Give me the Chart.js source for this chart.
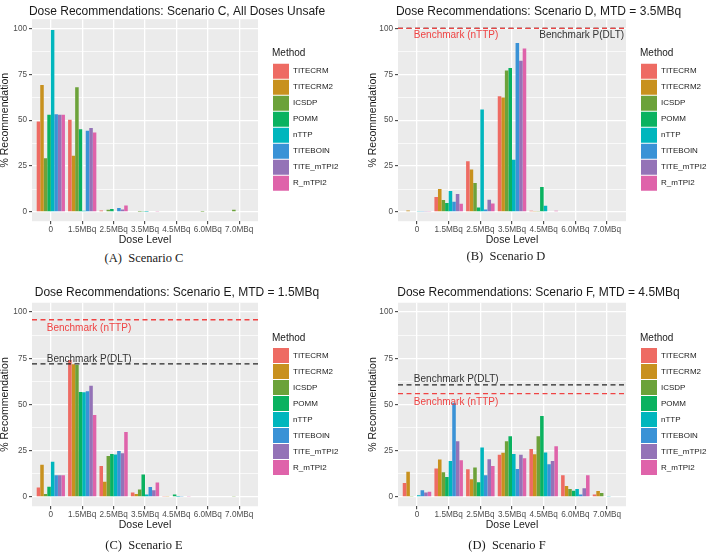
<!DOCTYPE html>
<html>
<head>
<meta charset="utf-8">
<title>Dose Recommendations</title>
<script src="https://cdn.jsdelivr.net/npm/chart.js@4.4.1/dist/chart.umd.min.js"></script>
<style>
html,body{margin:0;padding:0;background:#fff;}
body{width:709px;height:554px;position:relative;overflow:hidden;}
canvas{position:absolute;}
.cap{position:absolute;font-family:"Liberation Serif","Times New Roman",serif;font-size:12.5px;color:#1a1a1a;white-space:pre;transform:translate(-50%,-50%);}
</style>
</head>
<body>
<canvas id="chartA" width="354" height="250" style="left:0;top:0"></canvas>
<canvas id="chartB" width="355" height="250" style="left:354px;top:0"></canvas>
<canvas id="chartC" width="354" height="260" style="left:0;top:280px"></canvas>
<canvas id="chartD" width="355" height="260" style="left:354px;top:280px"></canvas>
<div class="cap" style="left:144px;top:258px">(A)  Scenario C</div>
<div class="cap" style="left:506px;top:256px">(B)  Scenario D</div>
<div class="cap" style="left:144px;top:545px">(C)  Scenario E</div>
<div class="cap" style="left:507px;top:545px">(D)  Scenario F</div>
<script>
// ---------- data ----------
const methods = ['TITECRM', 'TITECRM2', 'ICSDP', 'POMM', 'nTTP', 'TITEBOIN', 'TITE_mTPI2', 'R_mTPI2'];
const doseLevels = ['0', '1.5MBq', '2.5MBq', '3.5MBq', '4.5MBq', '6.0MBq', '7.0MBq'];
const methodColors = ['#EE6B63', '#C8911E', '#6CA23A', '#0AB260', '#00B6BD', '#3A92D6', '#9473B7', '#DF63AA'];
const yTickValues = [0, 12.5, 25, 37.5, 50, 62.5, 75, 87.5, 100];
const yTickLabels = ['0', '', '25', '', '50', '', '75', '', '100'];

// rows: one per method (same order as methods), columns: dose levels
const scenarioC = [
  [49.3, 50.2, 0.8, 0, 0, 0, 0],
  [69.2, 30.6, 0, 0, 0, 0, 0],
  [29.3, 67.9, 1.2, 0.2, 0, 0.2, 1.3],
  [52.9, 45.1, 1.7, 0.3, 0, 0, 0],
  [99.1, 0.7, 0, 0.2, 0, 0, 0],
  [53.3, 44.2, 2.2, 0.4, 0, 0, 0],
  [52.9, 45.7, 1.4, 0, 0, 0, 0],
  [52.9, 43.3, 3.6, 0.3, 0, 0, 0]
];
const scenarioD = [
  [0, 8.2, 27.7, 63.0, 0.7, 0, 0],
  [0.8, 12.5, 23.2, 62.3, 0.6, 0, 0],
  [0, 6.5, 15.8, 77.0, 0.5, 0, 0],
  [0, 4.9, 2.4, 78.4, 13.6, 0, 0],
  [0.3, 11.4, 55.8, 28.4, 3.4, 0.4, 0],
  [0.5, 5.6, 1.4, 92.0, 0, 0, 0],
  [0.6, 9.8, 6.7, 82.4, 0.4, 0, 0],
  [0.6, 4.5, 4.7, 89.1, 0.7, 0, 0]
];
const scenarioE = [
  [5.1, 74.1, 16.8, 2.5, 0.3, 0, 0],
  [17.5, 71.8, 8.3, 1.6, 0.3, 0, 0],
  [1.6, 71.4, 22.1, 4.0, 0.4, 0, 0.3],
  [5.6, 56.8, 23.3, 12.1, 1.4, 0, 0],
  [19.0, 56.6, 23.0, 1.4, 0.2, 0, 0],
  [11.8, 57.1, 24.8, 5.4, 0.5, 0, 0],
  [11.8, 60.2, 23.7, 3.6, 0.4, 0, 0],
  [11.8, 44.3, 35.1, 7.8, 0.6, 0, 0]
];
const scenarioF = [
  [7.6, 15.4, 15.0, 22.8, 26.0, 11.8, 1.3],
  [13.6, 20.3, 9.6, 23.9, 23.1, 6.0, 3.3],
  [0.5, 13.4, 15.9, 30.2, 32.9, 4.3, 2.2],
  [0.4, 10.8, 8.0, 32.9, 43.8, 3.4, 0],
  [0.9, 19.5, 26.8, 23.3, 24.1, 4.3, 0.5],
  [3.6, 51.0, 11.8, 15.2, 17.7, 1.3, 0],
  [2.4, 30.2, 20.4, 22.8, 19.5, 4.7, 0],
  [2.9, 19.9, 16.8, 21.0, 27.5, 11.8, 0.4]
];
// benchmark values per panel (C, D, E, F); null = none
const benchmarkNTTP = [null, 100, 95.8, 55.9];
const benchmarkPDLT = [null, 100, 72.0, 60.6];

// ---------- helpers ----------
const FONT = '"Liberation Sans", Arial, Helvetica, sans-serif';
Chart.defaults.font.family = FONT;
const X_MIN = -0.6, X_MAX = 6.6, Y_MIN = -5, Y_MAX = 105;
const RED = '#EF4343', DARK = '#262626';
const isMajor = (v) => Math.abs(v % 25) < 1e-6;

const panelBg = {
  id: 'panelBg',
  beforeDraw(chart) {
    const {ctx, chartArea: a} = chart;
    ctx.save();
    ctx.fillStyle = '#EBEBEB';
    ctx.fillRect(a.left, a.top, a.right - a.left, a.bottom - a.top);
    ctx.restore();
  }
};

const legendFix = {
  id: 'legendFix',
  afterInit(chart, args, opts) {
    const lg = chart.legend;
    if (!lg || lg._fixed) return;
    const fit = lg.fit;
    const w = opts.width;
    lg.fit = function () { fit.call(this); this.width = w; };
    lg._fixed = true;
  },
  afterLayout(chart, args, opts) {
    const lg = chart.legend;
    if (!lg) return;
    lg.left = chart.chartArea.right + opts.gap;
    lg.right = lg.left + lg.width;
  }
};

const benchLabels = {
  id: 'benchLabels',
  afterDatasetsDraw(chart, args, opts) {
    const {ctx, scales: {x, y}} = chart;
    (opts.items || []).forEach(it => {
      ctx.save();
      ctx.font = '10px ' + FONT;
      ctx.fillStyle = it.color;
      ctx.textAlign = it.align;
      ctx.textBaseline = 'middle';
      ctx.fillText(it.text, x.getPixelForValue(it.x), y.getPixelForValue(it.y));
      ctx.restore();
    });
  }
};

function buildChart(id, cfg) {
  const datasets = methods.map((m, i) => ({
    type: 'bar',
    label: m,
    data: cfg.rows[i].map((v, j) => ({x: j, y: v})),
    backgroundColor: methodColors[i],
    borderWidth: 0,
    categoryPercentage: 0.9,
    barPercentage: 1.0,
    order: 0
  }));
  if (cfg.pdlt != null) {
    datasets.push({type: 'line', label: 'Benchmark P(DLT)',
      data: [{x: X_MIN, y: cfg.pdlt}, {x: X_MAX, y: cfg.pdlt}],
      borderColor: DARK, borderWidth: 1.3, borderDash: [5, 3.5], pointRadius: 0, fill: false, order: -1});
  }
  if (cfg.nttp != null) {
    datasets.push({type: 'line', label: 'Benchmark (nTTP)',
      data: [{x: X_MIN, y: cfg.nttp}, {x: X_MAX, y: cfg.nttp}],
      borderColor: RED, borderWidth: 1.3, borderDash: [5, 3.5], pointRadius: 0, fill: false, order: -2});
  }
  return new Chart(document.getElementById(id), {
    type: 'bar',
    data: {datasets},
    plugins: [panelBg, legendFix, benchLabels],
    options: {
      responsive: false,
      animation: false,
      devicePixelRatio: 1,
      events: [],
      layout: {padding: {left: cfg.padLeft, right: 0, top: 0, bottom: 0}},
      plugins: {
        title: {display: true, text: cfg.title, align: 'center', color: '#1A1A1A',
          font: {size: 12, weight: 'normal'}, padding: {top: cfg.titleTop, bottom: cfg.titleBottom}, fullSize: true},
        legend: {display: true, position: 'right', align: 'center', fullSize: false,
          title: {display: true, text: 'Method', color: '#1A1A1A', font: {size: 10}, padding: {top: 0, bottom: 2}, position: 'start'},
          labels: {boxWidth: 16, boxHeight: 15, padding: 1, color: '#1A1A1A', font: {size: 8},
            filter: (it) => it.datasetIndex < methods.length}
        },
        tooltip: {enabled: false},
        legendFix: {width: cfg.legendWidth, gap: 14},
        benchLabels: {items: cfg.labels}
      },
      scales: {
        x: {
          type: 'linear', min: X_MIN, max: X_MAX, offset: false,
          afterBuildTicks: (s) => { s.ticks = doseLevels.map((_, i) => ({value: i})); },
          afterFit: (s) => { s.height = cfg.xHeight; },
          ticks: {callback: (v) => doseLevels[v], color: '#4D4D4D', font: {size: 8.2}, padding: 0.5,
            autoSkip: false, maxRotation: 0, minRotation: 0},
          grid: {offset: false, color: '#FFFFFF', lineWidth: 1.3, drawTicks: true, tickLength: 3,
            tickColor: '#333333', tickWidth: 1},
          border: {display: false},
          title: {display: true, text: 'Dose Level', color: '#1A1A1A', font: {size: 10.5},
            padding: {top: 0, bottom: cfg.xTitleBottom}}
        },
        y: {
          type: 'linear', min: Y_MIN, max: Y_MAX,
          afterBuildTicks: (s) => { s.ticks = yTickValues.map(v => ({value: v})); },
          afterFit: (s) => { s.width = cfg.yWidth; },
          ticks: {callback: (v, i) => yTickLabels[i], color: '#4D4D4D', font: {size: 8.2}, padding: 2},
          grid: {color: '#FFFFFF',
            lineWidth: (c) => (c.tick && isMajor(c.tick.value)) ? 1.3 : 0.7,
            drawTicks: true, tickLength: 3,
            tickColor: (c) => (c.tick && isMajor(c.tick.value)) ? '#333333' : 'rgba(0,0,0,0)',
            tickWidth: 1},
          border: {display: false},
          title: {display: true, text: '% Recommendation', color: '#1A1A1A', font: {size: 10.5, lineHeight: 1},
            padding: {top: 0, bottom: 0}}
        }
      }
    }
  });
}

buildChart('chartA', {
  title: 'Dose Recommendations: Scenario C, All Doses Unsafe',
  rows: scenarioC, nttp: benchmarkNTTP[0], pdlt: benchmarkPDLT[0], labels: [],
  padLeft: 0, yWidth: 32, legendWidth: 96, titleTop: 4.8, titleBottom: 0, xHeight: 28.8, xTitleBottom: 3.7
});
buildChart('chartB', {
  title: 'Dose Recommendations: Scenario D, MTD = 3.5MBq',
  rows: scenarioD, nttp: benchmarkNTTP[1], pdlt: benchmarkPDLT[1],
  labels: [
    {text: 'Benchmark (nTTP)', color: RED, x: -0.1, y: 96.2, align: 'left'},
    {text: 'Benchmark P(DLT)', color: '#333333', x: 6.54, y: 96.2, align: 'right'}
  ],
  padLeft: 14, yWidth: 30, legendWidth: 83, titleTop: 4.8, titleBottom: 0, xHeight: 28.8, xTitleBottom: 3.7
});
buildChart('chartC', {
  title: 'Dose Recommendations: Scenario E, MTD = 1.5MBq',
  rows: scenarioE, nttp: benchmarkNTTP[2], pdlt: benchmarkPDLT[2],
  labels: [
    {text: 'Benchmark (nTTP)', color: RED, x: -0.13, y: 91.4, align: 'left'},
    {text: 'Benchmark P(DLT)', color: '#333333', x: -0.13, y: 74.6, align: 'left'}
  ],
  padLeft: 0, yWidth: 32, legendWidth: 96, titleTop: 5.8, titleBottom: 2.55, xHeight: 33.75, xTitleBottom: 8.7
});
buildChart('chartD', {
  title: 'Dose Recommendations: Scenario F, MTD = 4.5MBq',
  rows: scenarioF, nttp: benchmarkNTTP[3], pdlt: benchmarkPDLT[3],
  labels: [
    {text: 'Benchmark P(DLT)', color: '#333333', x: -0.1, y: 63.8, align: 'left'},
    {text: 'Benchmark (nTTP)', color: RED, x: -0.1, y: 51.4, align: 'left'}
  ],
  padLeft: 14, yWidth: 30, legendWidth: 83, titleTop: 5.8, titleBottom: 2.55, xHeight: 33.75, xTitleBottom: 8.7
});
</script>
</body>
</html>
